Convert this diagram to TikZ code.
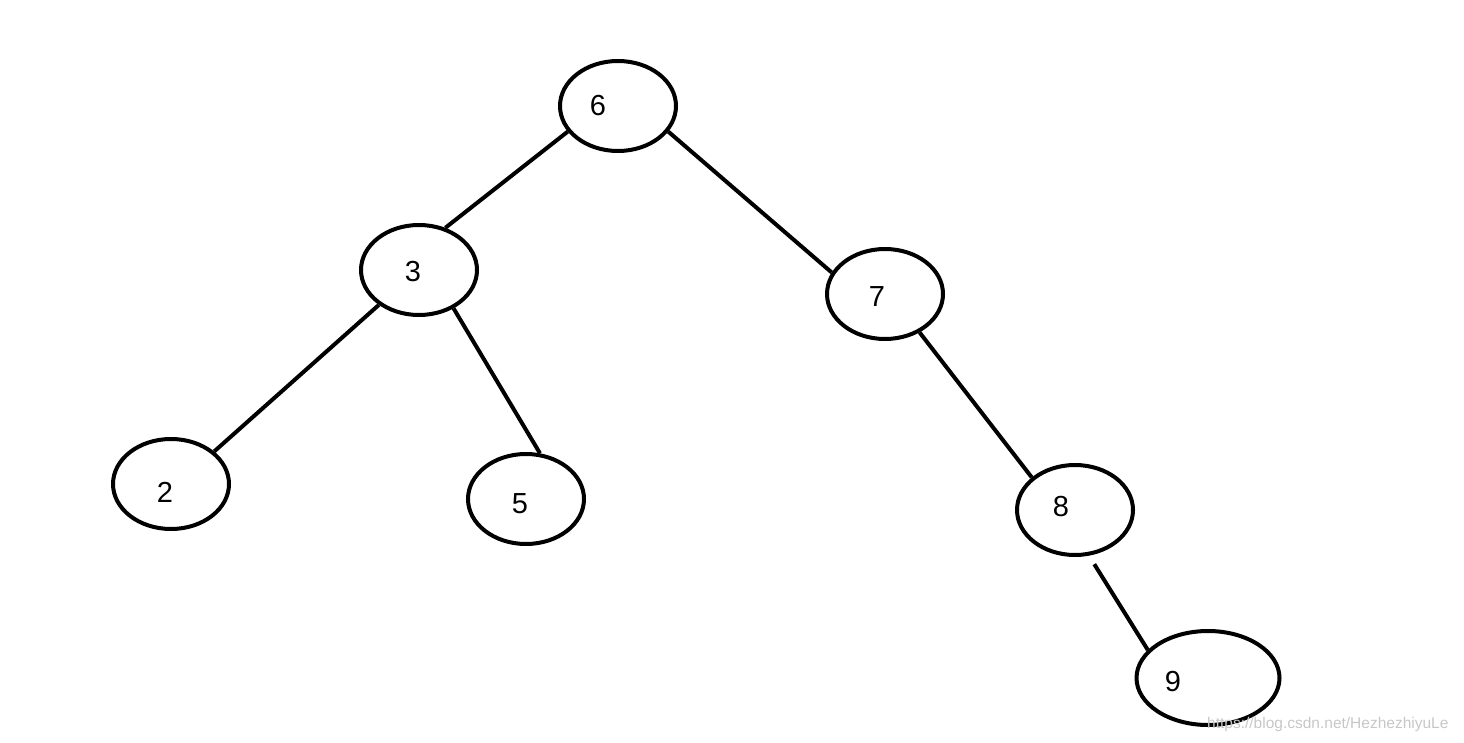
\documentclass[tikz,border=0pt]{standalone}
\usepackage{fontspec}
\setmainfont{Liberation Sans}
\usetikzlibrary{shapes.geometric}
\tikzset{
  treenode/.style={draw, ellipse, line width=4pt, minimum width=116pt, minimum height=90pt, inner sep=0pt},
  num/.style={font=\fontsize{29}{33}\selectfont},
  branch/.style={line width=4pt},
}
\begin{document}
\begin{tikzpicture}[x=1pt,y=-1pt]
  \useasboundingbox (0,0) rectangle (1464,743);
  % the keys
  \node[treenode, label={[num,xshift=-20pt]center:6}] (n6) at (618,106) {};
  \node[treenode, label={[num,xshift=-6pt,yshift=-2pt]center:3}] (n3) at (419,270) {};
  \node[treenode, label={[num,xshift=-8pt,yshift=-3pt]center:7}] (n7) at (885,294) {};
  \node[treenode, label={[num,xshift=-6pt,yshift=-8pt]center:2}] (n2) at (171,484) {};
  \node[treenode, label={[num,xshift=-6pt,yshift=-5pt]center:5}] (n5) at (526,499) {};
  \node[treenode, label={[num,xshift=-14pt,yshift=3pt]center:8}] (n8) at (1075,510) {};
  \node[treenode, minimum width=143pt, minimum height=94pt, label={[num,xshift=-35pt,yshift=-4pt]center:9}] (n9) at (1208,678) {};
  % branches
  \draw[branch] (n6.207) -- (n3.58);
  \draw[branch] (n6.333) -- (n7.158);
  \draw[branch] (n3.221) -- (n2.37);
  \draw[branch] (n3.312) -- (n5.73);
  \draw[branch] (n7.312) -- (n8.143);
  \draw[branch, shorten <=10pt] (n8.287) -- (n9.155);
  \node[anchor=west, text=black!22, font=\fontsize{15.5}{18}\selectfont, inner sep=0pt] (mark) at (1207,724) {https://blog.csdn.net/HezhezhiyuLe};
\end{tikzpicture}
\end{document}
